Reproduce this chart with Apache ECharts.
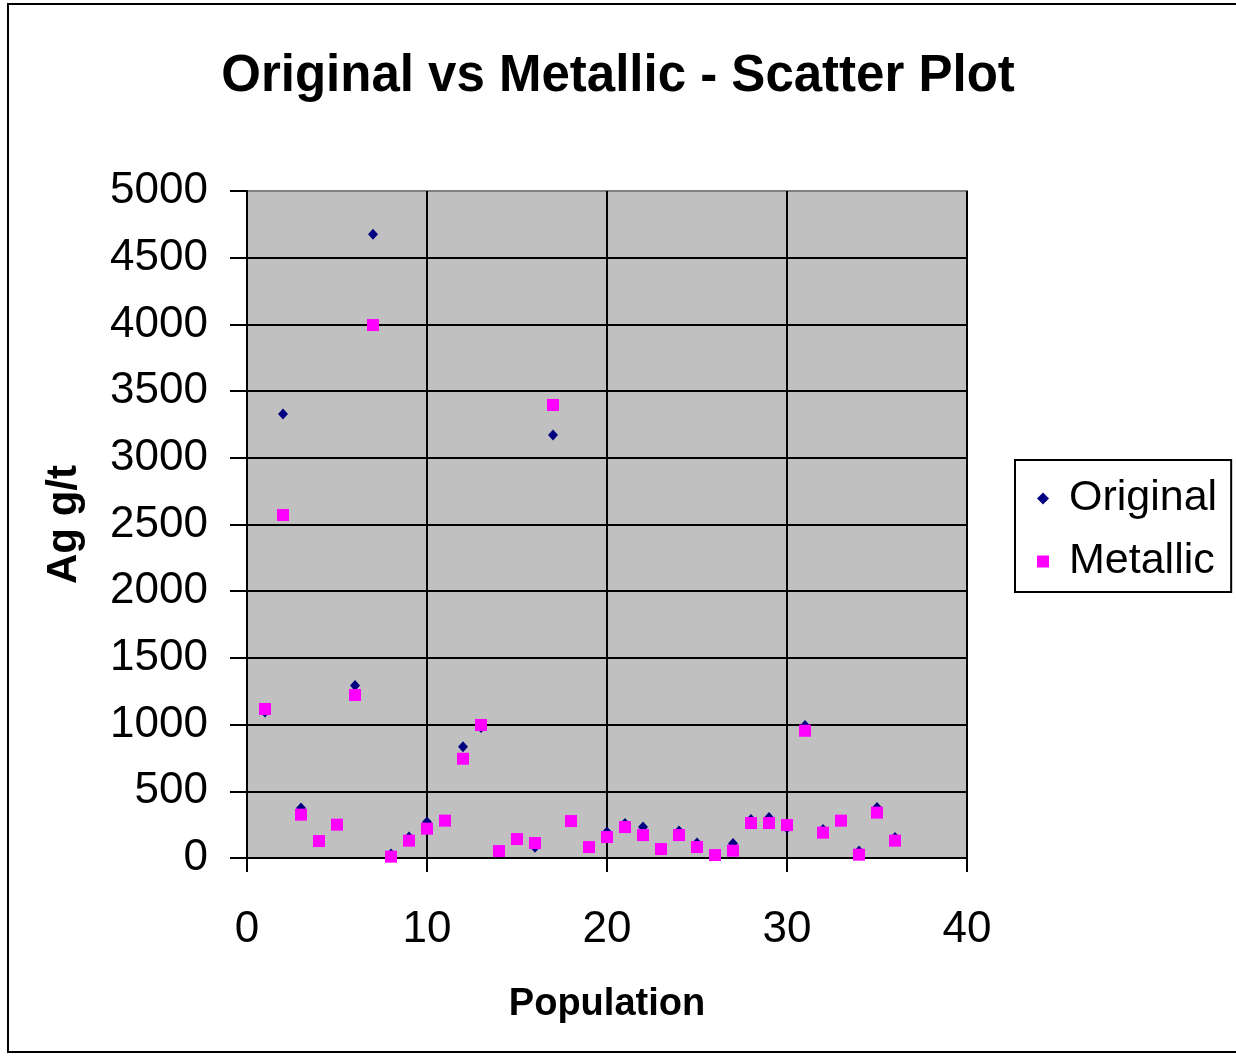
<!DOCTYPE html>
<html>
<head>
<meta charset="utf-8">
<title>Original vs Metallic - Scatter Plot</title>
<script src="https://cdn.jsdelivr.net/npm/echarts@6/dist/echarts.min.js"></script>
<style>
    body { margin: 0; background: #fff; }
    #chart { width: 1236px; height: 1057px; }
</style>
</head>
<body>
<div id="chart"></div>
<script>
// Sample number (x) for each pair
const population = [1, 2, 3, 4, 5, 6, 7, 8, 9, 10, 11, 12, 13, 14, 15, 16, 17, 18,
    19, 20, 21, 22, 23, 24, 25, 26, 27, 28, 29, 30, 31, 32, 33, 34, 35, 36];

// Ag g/t values
const original = [1095, 3328, 375, 127, 250, 1294, 4675, 30, 157, 270, 280, 834,
    978, 45, 142, 80, 3171, 277, 82, 195, 258, 232, 67, 202,
    112, 22, 109, 289, 304, 225, 993, 214, 280, 52, 379, 154];
const metallic = [1117, 2571, 325, 127, 250, 1222, 3995, 10, 130, 220, 280, 744,
    997, 52, 142, 112, 3396, 277, 82, 157, 232, 172, 67, 172,
    82, 22, 55, 262, 262, 247, 954, 190, 280, 25, 340, 130];

const FONT = '"Liberation Sans", Arial, sans-serif';

// Pair x with y
function toPoints(ys) {
    return population.map((x, i) => [x, ys[i]]);
}

// y split lines: black, top one grey (plot border)
const ySplitColors = [];
for (let v = 0; v <= 5000; v += 500) {
    ySplitColors.push(v === 5000 ? '#808080' : '#000');
}

const chart = echarts.init(document.getElementById('chart'));
chart.setOption({
    backgroundColor: '#fff',
    animation: false,
    title: {
        text: 'Original vs Metallic - Scatter Plot',
        left: 'center',
        top: 51,
        padding: 0,
        textStyle: { fontFamily: FONT, fontSize: 51, fontWeight: 'bold', color: '#000' }
    },
    legend: {
        orient: 'vertical',
        left: 1015,
        top: 460,
        padding: [17, 14, 9, 22],
        itemGap: 20,
        itemWidth: 12,
        itemHeight: 12,
        borderColor: '#000',
        borderWidth: 2,
        textStyle: { fontFamily: FONT, fontSize: 43, color: '#000', padding: [0, 0, 0, 15] },
        data: ['Original', 'Metallic']
    },
    grid: {
        left: 247,
        top: 191,
        width: 720,
        height: 667,
        show: true,
        backgroundColor: '#C0C0C0',
        borderColor: '#808080',
        borderWidth: 2
    },
    xAxis: {
        type: 'value',
        min: 0,
        max: 40,
        interval: 10,
        name: 'Population',
        nameLocation: 'middle',
        nameGap: 128,
        nameTextStyle: { fontFamily: FONT, fontSize: 38, fontWeight: 'bold', color: '#000' },
        axisLine: { show: true, onZero: false, lineStyle: { color: '#000', width: 2 } },
        axisTick: { show: true, length: 14, lineStyle: { color: '#000', width: 2 } },
        axisLabel: { fontFamily: FONT, fontSize: 44, color: '#000', margin: 50 },
        splitLine: { show: true, lineStyle: { color: '#000', width: 2 } }
    },
    yAxis: {
        type: 'value',
        min: 0,
        max: 5000,
        interval: 500,
        name: 'Ag g/t',
        nameLocation: 'middle',
        nameGap: 162,
        nameTextStyle: { fontFamily: FONT, fontSize: 42, fontWeight: 'bold', color: '#000' },
        axisLine: { show: true, onZero: false, lineStyle: { color: '#000', width: 2 } },
        axisTick: { show: true, length: 17, lineStyle: { color: '#000', width: 2 } },
        axisLabel: {
            fontFamily: FONT, fontSize: 44, color: '#000', margin: 39,
            padding: [5, 0, 0, 0],
            formatter: v => String(v)
        },
        splitLine: { show: true, lineStyle: { color: ySplitColors, width: 2 } }
    },
    series: [
        {
            name: 'Original',
            type: 'scatter',
            symbol: 'diamond',
            symbolSize: [10, 11],
            itemStyle: { color: '#000080', opacity: 1 },
            data: toPoints(original)
        },
        {
            name: 'Metallic',
            type: 'scatter',
            symbol: 'rect',
            symbolSize: 12,
            itemStyle: { color: '#FF00FF', opacity: 1 },
            data: toPoints(metallic)
        }
    ],
    graphic: [{
        type: 'rect',
        silent: true,
        shape: { x: 8, y: 4, width: 1240, height: 1048 },
        style: { fill: null, stroke: '#000', lineWidth: 2 }
    }]
});
</script>
</body>
</html>
